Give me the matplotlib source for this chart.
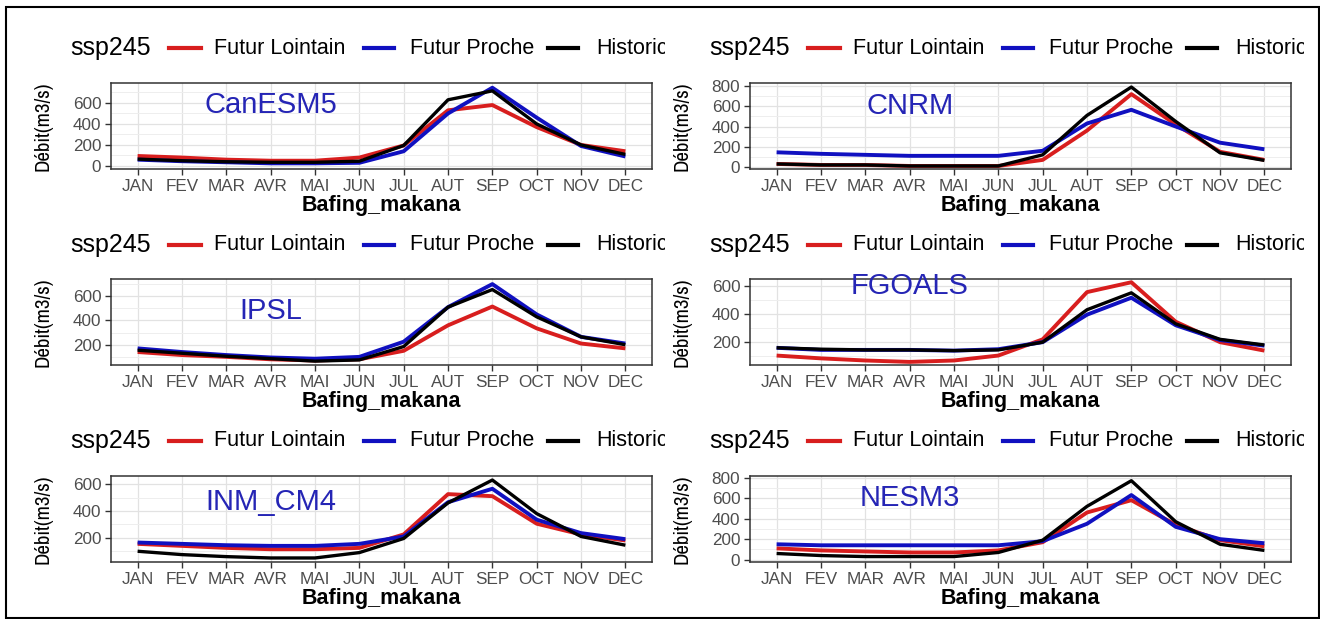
import matplotlib.pyplot as plt
from matplotlib.lines import Line2D
from matplotlib.patches import Rectangle
from matplotlib.ticker import MultipleLocator
from matplotlib.transforms import Bbox
from matplotlib import font_manager

plt.rcParams['font.family'] = ['Liberation Sans', 'DejaVu Sans']

# data (m3/s)
months = ['JAN', 'FEV', 'MAR', 'AVR', 'MAI', 'JUN', 'JUL', 'AUT', 'SEP', 'OCT', 'NOV', 'DEC']
models = ['CanESM5', 'CNRM', 'IPSL', 'FGOALS', 'INM_CM4', 'NESM3']
series_names = ['Futur Lointain', 'Futur Proche', 'Historic']

canesm5_lointain = [95, 80, 60, 50, 50, 80, 195, 530, 580, 370, 200, 140]
canesm5_proche = [60, 45, 35, 25, 25, 30, 140, 500, 745, 460, 190, 90]
canesm5_hist = [65, 50, 40, 35, 35, 45, 195, 630, 715, 400, 200, 110]

cnrm_lointain = [30, 20, 20, 10, 10, 10, 70, 360, 720, 420, 150, 70]
cnrm_proche = [145, 130, 120, 110, 110, 110, 160, 430, 565, 400, 240, 175]
cnrm_hist = [30, 20, 20, 10, 10, 10, 120, 510, 790, 450, 140, 65]

ipsl_lointain = [140, 115, 100, 80, 70, 80, 150, 360, 515, 335, 210, 170]
ipsl_proche = [170, 140, 115, 95, 85, 100, 225, 510, 700, 450, 265, 210]
ipsl_hist = [155, 130, 105, 85, 65, 75, 185, 510, 655, 430, 265, 200]

fgoals_lointain = [105, 85, 70, 60, 70, 105, 220, 555, 625, 345, 200, 140]
fgoals_proche = [160, 145, 145, 145, 140, 150, 200, 395, 515, 320, 215, 175]
fgoals_hist = [160, 150, 145, 145, 140, 145, 200, 430, 550, 330, 220, 180]

inm_lointain = [155, 140, 125, 115, 115, 125, 225, 525, 510, 305, 225, 180]
inm_proche = [165, 155, 145, 140, 140, 155, 210, 465, 565, 335, 235, 190]
inm_hist = [100, 75, 60, 50, 50, 90, 195, 460, 630, 380, 210, 145]

nesm3_lointain = [110, 90, 80, 70, 70, 90, 170, 460, 580, 340, 190, 130]
nesm3_proche = [150, 140, 140, 140, 140, 140, 180, 350, 630, 320, 200, 160]
nesm3_hist = [60, 40, 30, 30, 30, 70, 190, 520, 770, 370, 150, 90]

data = {
    'CanESM5': [canesm5_lointain, canesm5_proche, canesm5_hist],
    'CNRM': [cnrm_lointain, cnrm_proche, cnrm_hist],
    'IPSL': [ipsl_lointain, ipsl_proche, ipsl_hist],
    'FGOALS': [fgoals_lointain, fgoals_proche, fgoals_hist],
    'INM_CM4': [inm_lointain, inm_proche, inm_hist],
    'NESM3': [nesm3_lointain, nesm3_proche, nesm3_hist],
}

# layout / styles
colors = ['#d81e1e', '#1010c0', '#000000']
ylims = {'CanESM5': (-29, 790), 'CNRM': (-20, 830), 'IPSL': (33, 742),
         'FGOALS': (38, 648), 'INM_CM4': (20, 660), 'NESM3': (-23, 816)}
yticks = {'CanESM5': [0, 200, 400, 600], 'CNRM': [0, 200, 400, 600, 800],
          'IPSL': [200, 400, 600], 'FGOALS': [200, 400, 600],
          'INM_CM4': [200, 400, 600], 'NESM3': [0, 200, 400, 600, 800]}
label_pos = {'CanESM5': (3, 580), 'CNRM': (3, 600), 'IPSL': (3, 480),
             'FGOALS': (3, 600), 'INM_CM4': (3, 470), 'NESM3': (3, 600)}

narrow = [f.name for f in font_manager.fontManager.ttflist if 'Narrow' in f.name]
ylab_family = [narrow[0], 'DejaVu Sans'] if narrow else ['DejaVu Sans']
ylab_size = 15 if narrow else 12

W, H = 1320, 619
fig = plt.figure(figsize=(W / 100, H / 100), dpi=100)
fig.set_facecolor('w')

def fx(px):
    return px / W

def fy(py):
    return 1 - py / H

col_left = [111, 750]
row_top = [83, 279, 476]
row_leg = [48, 245, 441]
ax_w, ax_h = 541, 86

for k, name in enumerate(models):
    r, c = k // 2, k % 2
    x0 = col_left[c]
    y0 = row_top[r]
    ax = fig.add_axes([fx(x0), fy(y0 + ax_h), ax_w / W, ax_h / H])
    for s in range(3):
        ax.plot(range(12), data[name][s], color=colors[s], lw=2.8 if s < 2 else 2.4,
                solid_capstyle='butt', zorder=3 + s)
    ax.set_xlim(-0.6, 11.6)
    ax.set_ylim(*ylims[name])
    ax.set_xticks(range(12))
    ax.set_xticklabels(months)
    ax.set_yticks(yticks[name])
    ax.yaxis.set_minor_locator(MultipleLocator(100))
    ax.grid(True, which='major', color='#e2e2e2', lw=0.9)
    ax.grid(True, which='minor', axis='y', color='#eeeeee', lw=0.7)
    ax.set_axisbelow(True)
    for sp in ax.spines.values():
        sp.set_color('#333333')
        sp.set_linewidth(1.1)
    ax.tick_params(axis='both', which='major', colors='#333333', length=4,
                   width=1, labelcolor='#4d4d4d', labelsize=12.3, pad=3)
    ax.tick_params(axis='y', which='minor', length=0)
    ax.set_xlabel('Bafing_makana', fontsize=15.5, fontweight='bold', labelpad=1)
    ax.set_ylabel('Débit(m3/s)', fontsize=ylab_size, family=ylab_family)
    ax.yaxis.set_label_coords(-0.109, 0.5)
    tx, ty = label_pos[name]
    ax.text(tx, ty, name, color='#2525b5', fontsize=21, ha='center', va='center')

    # legend row above each panel
    off = x0 - 111
    ly = fy(row_leg[r])
    fig.text(fx(70 + off), ly, 'ssp245', fontsize=18, va='center', ha='left')
    keys = [(169, 201), (364, 394), (548, 578)]
    texts = [214, 410, 596]
    clip = Bbox.from_extents(0, 0, 665 + off, H)
    for s in range(3):
        a, b = keys[s]
        fig.add_artist(Line2D([fx(a + off), fx(b + off)], [ly, ly],
                              color=colors[s], lw=3, transform=fig.transFigure))
        t = fig.text(fx(texts[s] + off), ly, series_names[s], fontsize=15.5,
                     va='center', ha='left')
        t.set_clip_box(clip)
        t.set_clip_on(True)

# outer frame
fig.add_artist(Rectangle((fx(6), fy(618)), fx(1319) - fx(6), fy(7) - fy(618),
                         transform=fig.transFigure, fill=False,
                         edgecolor='black', lw=1.5))

plt.savefig('out.png', dpi=100)
plt.close()
